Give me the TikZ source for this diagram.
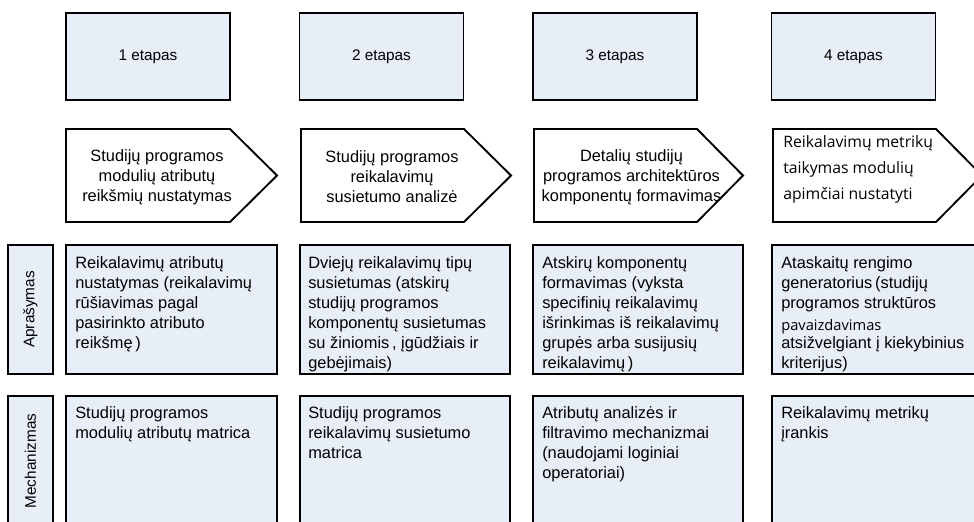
\documentclass[tikz,border=0pt]{standalone}
\usepackage{fontspec}
\setmainfont{Liberation Sans}
\newfontfamily\altfont{Open Sans}
\usetikzlibrary{positioning}
\definecolor{boxfill}{RGB}{232,238,247}

\begin{document}
\begin{tikzpicture}[x=0.75pt, y=-0.75pt,
	stagebox/.style={rectangle, draw, line width=1.4pt, fill=boxfill, minimum width=123pt, minimum height=65.25pt, font=\fontsize{11.5}{15}\selectfont},
	stepshape/.style={draw, line width=1.4pt, fill=white, line join=miter},
	steptext/.style={align=center, inner sep=0pt, font=\fontsize{12.3}{15}\selectfont},
	cellbox/.style={rectangle, draw, line width=1.4pt, fill=boxfill, minimum width=158pt},
	celltext/.style={anchor=north west, align=left, inner sep=0pt, font=\fontsize{12.3}{15}\selectfont},
	rowlabel/.style={rectangle, draw, line width=1.4pt, fill=boxfill, rotate=90, minimum height=33.75pt, font=\fontsize{11.5}{15}\selectfont}]
	\useasboundingbox (0,0) rectangle (974,521);
	\clip (0,0) rectangle (974,521);

	% stages
	\node[stagebox] (s1) at (148,56.5) {1 etapas};
	\node[stagebox] (s2) at (381.5,56.5) {2 etapas};
	\node[stagebox] (s3) at (615,56.5) {3 etapas};
	\node[stagebox] (s4) at (853.5,56.5) {4 etapas};

	% process arrows
	\draw[stepshape] (66,129) -- (230,129) -- (277,175.5) -- (230,222) -- (66,222) -- cycle;
	\draw[stepshape] (301,129) -- (464,129) -- (511,175.5) -- (464,222) -- (301,222) -- cycle;
	\draw[stepshape] (534,129) -- (697,129) -- (743,175.5) -- (697,222) -- (534,222) -- cycle;
	\draw[stepshape] (773,129) -- (936,129) -- (982,175.5) -- (936,222) -- (773,222) -- cycle;

	\node[steptext] (p1) at (157,177) {Studijų programos\\modulių atributų\\reikšmių nustatymas};
	\node[steptext] (p2) at (392,177) {Studijų programos\\reikalavimų\\susietumo analizė};
	\node[steptext] (p3) at (631.5,177) {Detalių studijų\\programos architektūros\\komponentų formavimas};
	\node[steptext, anchor=west, align=left, font=\altfont\fontsize{11.8}{19.5}\selectfont] (p4) at (783,169) {Reikalavimų metrikų\\taikymas modulių\\apimčiai nustatyti};

	% row labels
	\node[rowlabel, minimum width=96.75pt] (la) at (30.5,309.5) {Aprašymas};
	\node[rowlabel, minimum width=97.5pt] (lm) at (30.5,461) {Mechanizmas};

	% description row
	\node[cellbox, minimum height=96.75pt] (d1) at (171.5,309.5) {};
	\node[cellbox, minimum height=96.75pt] (d2) at (405,309.5) {};
	\node[cellbox, minimum height=96.75pt] (d3) at (638,309.5) {};
	\node[cellbox, minimum height=96.75pt] (d4) at (877.5,309.5) {};

	\node[celltext] (t1) at (75,256) {Reikalavimų atributų\\nustatymas (reikalavimų\\rūšiavimas pagal\\pasirinkto atributo\\reikšmę\,)};
	\node[celltext] (t2) at (308,256) {Dviejų reikalavimų tipų\\susietumas (atskirų\\studijų programos\\komponentų susietumas\\su žiniomis\,, įgūdžiais ir\\gebėjimais)};
	\node[celltext] (t3) at (542,256) {Atskirų komponentų\\formavimas (vyksta\\specifinių reikalavimų\\išrinkimas iš reikalavimų\\grupės arba susijusių\\reikalavimų\,)};
	\node[celltext] (t4) at (781,256) {Ataskaitų rengimo\\generatorius\,(studijų\\programos struktūros\\\raisebox{-2pt}{\altfont\fontsize{11}{15}\selectfont pavaizdavimas}\\atsižvelgiant į kiekybinius\\kriterijus)};

	% mechanism row
	\node[cellbox, minimum height=97.5pt] (m1) at (171.5,461) {};
	\node[cellbox, minimum height=97.5pt] (m2) at (405,461) {};
	\node[cellbox, minimum height=97.5pt] (m3) at (638,461) {};
	\node[cellbox, minimum height=97.5pt] (m4) at (877.5,461) {};

	\node[celltext] (u1) at (75,406) {Studijų programos\\modulių atributų matrica};
	\node[celltext] (u2) at (308,406) {Studijų programos\\reikalavimų susietumo\\matrica};
	\node[celltext] (u3) at (542,406) {Atributų analizės ir\\filtravimo mechanizmai\\(naudojami loginiai\\operatoriai)};
	\node[celltext] (u4) at (781,406) {Reikalavimų metrikų\\įrankis};
\end{tikzpicture}
\end{document}
